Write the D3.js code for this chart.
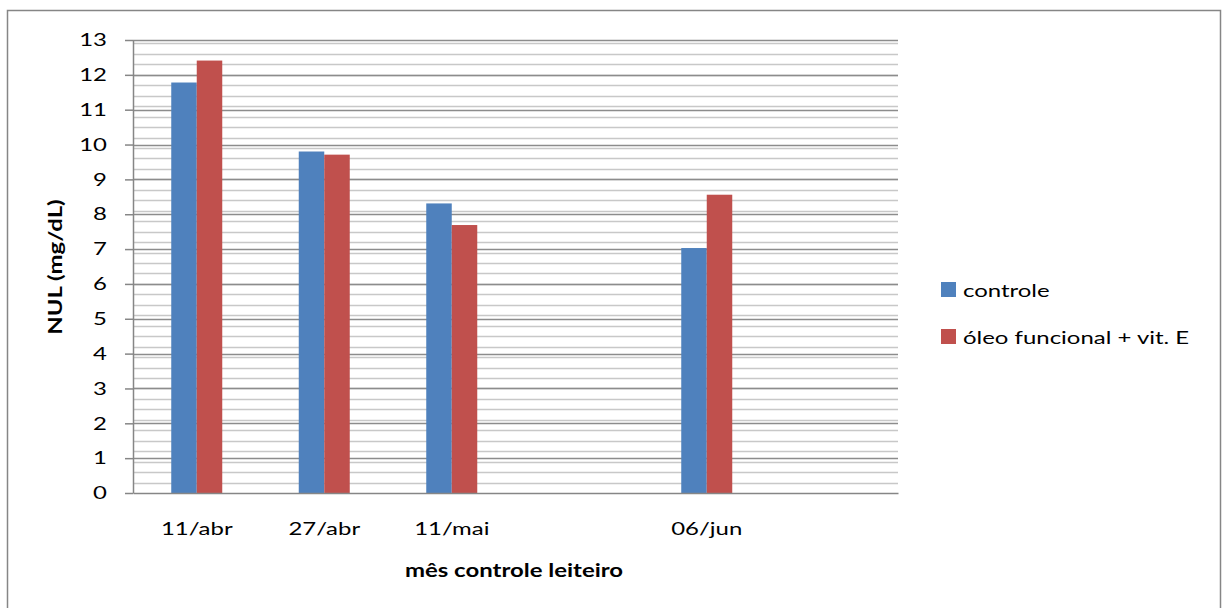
<!DOCTYPE html>
<html>
<head>
<meta charset="utf-8">
<script src="https://cdn.jsdelivr.net/npm/d3@7"></script>
<style>
body { margin: 0; background: #fff; }
text { font-family: Lato, "Open Sans", sans-serif; fill: #000; }
</style>
</head>
<body>
<svg width="1223" height="608"></svg>
<script>
// data
var categories = ['11/abr', '27/abr', '11/mai', '', '06/jun', ''];
var seriesNames = ['controle', 'óleo funcional + vit. E'];
var controle = [11.78, 9.80, 8.31, null, 7.03, null];
var oleo = [12.41, 9.71, 7.69, null, 8.56, null];
var yTicks = [0, 1, 2, 3, 4, 5, 6, 7, 8, 9, 10, 11, 12, 13];
var colors = ['#4f81bd', '#c0504d'];

var svg = d3.select('svg');

// the text in the picture is wider than Lato, stretch it along its run
function stretch(sel, k) {
    sel.each(function () {
        var w = this.getComputedTextLength();
        d3.select(this)
            .attr('textLength', w * k)
            .attr('lengthAdjust', 'spacingAndGlyphs');
    });
}
var K = 1.33;

// outer frame
svg.append('rect')
    .attr('x', 7.5).attr('y', 10.5)
    .attr('width', 1213).attr('height', 620)
    .attr('fill', 'none')
    .attr('stroke', '#868686')
    .attr('stroke-width', 1.5);

var plotLeft = 133, plotRight = 898, plotTop = 40, plotBottom = 493;

var scaleX = d3.scaleBand()
    .domain(d3.range(categories.length))
    .range([plotLeft, plotRight]);

var scaleY = d3.scaleLinear().domain([0, 13]).range([plotBottom, plotTop]);

var scaleSeries = d3.scaleBand()
    .domain([0, 1])
    .range([0, scaleX.bandwidth()])
    .paddingOuter(1.5);

// minor grid every 0.3
var minor = d3.range(0.3, 13, 0.3);
svg.append('g')
    .selectAll('line')
    .data(minor)
    .enter()
    .append('line')
    .attr('x1', plotLeft).attr('x2', plotRight)
    .attr('y1', function (d) { return Math.round(scaleY(d)) + 0.5; })
    .attr('y2', function (d) { return Math.round(scaleY(d)) + 0.5; })
    .attr('stroke', '#c8c8c8')
    .attr('stroke-width', 1.5);

// major grid
svg.append('g')
    .selectAll('line')
    .data(yTicks.slice(1))
    .enter()
    .append('line')
    .attr('x1', plotLeft).attr('x2', plotRight)
    .attr('y1', function (d) { return Math.round(scaleY(d)) + 0.5; })
    .attr('y2', function (d) { return Math.round(scaleY(d)) + 0.5; })
    .attr('stroke', '#8c8c8c')
    .attr('stroke-width', 1.5);

// bars
var rows = categories.map(function (c, i) {
    return { i: i, values: [controle[i], oleo[i]] };
});

var groups = svg.append('g')
    .selectAll('g')
    .data(rows)
    .enter()
    .append('g')
    .attr('transform', function (d) { return 'translate(' + scaleX(d.i) + ',0)'; });

groups.selectAll('rect')
    .data(function (d) {
        return d.values.map(function (v, k) { return { k: k, v: v }; })
            .filter(function (e) { return e.v != null; });
    })
    .enter()
    .append('rect')
    .attr('x', function (d) { return scaleSeries(d.k); })
    .attr('y', function (d) { return scaleY(d.v); })
    .attr('width', scaleSeries.bandwidth())
    .attr('height', function (d) { return scaleY(0) - scaleY(d.v); })
    .attr('fill', function (d) { return colors[d.k]; });

// y axis
var yAxis = svg.append('g')
    .attr('transform', 'translate(' + plotLeft + ',0)')
    .call(d3.axisLeft(scaleY).tickValues(yTicks).tickSize(8).tickPadding(18).tickSizeOuter(0));
yAxis.select('.domain').attr('stroke', '#868686').attr('stroke-width', 1.5);
yAxis.selectAll('.tick line').attr('stroke', '#868686').attr('stroke-width', 1.5);
yAxis.selectAll('.tick text').attr('font-size', 18).attr('font-family', 'Lato').attr('fill', '#000')
    .call(stretch, K);

// x axis
var xAxis = svg.append('g')
    .attr('transform', 'translate(0,' + plotBottom + ')')
    .call(d3.axisBottom(scaleX).tickSize(0).tickPadding(29)
        .tickFormat(function (i) { return categories[i]; }));
xAxis.select('.domain').attr('stroke', '#868686').attr('stroke-width', 1.5);
xAxis.selectAll('.tick text').attr('font-size', 18).attr('font-family', 'Lato').attr('fill', '#000')
    .call(stretch, K);

// axis titles
svg.append('text')
    .attr('x', 514)
    .attr('y', 577)
    .attr('text-anchor', 'middle')
    .attr('font-size', 18)
    .attr('font-weight', 'bold')
    .text('mês controle leiteiro')
    .call(stretch, K);

svg.append('text')
    .attr('transform', 'rotate(270)')
    .attr('x', -267)
    .attr('y', 62)
    .attr('text-anchor', 'middle')
    .attr('font-size', 18)
    .attr('font-weight', 'bold')
    .text('NUL (mg/dL)')
    .call(stretch, K);

// legend
var legend = svg.append('g')
    .selectAll('g')
    .data(seriesNames)
    .enter()
    .append('g')
    .attr('transform', function (d, i) { return 'translate(941,' + (282 + i * 47) + ')'; });

legend.append('rect')
    .attr('width', 15).attr('height', 15)
    .attr('fill', function (d, i) { return colors[i]; });

legend.append('text')
    .attr('x', 22)
    .attr('y', 15)
    .attr('font-size', 18)
    .text(function (d) { return d; })
    .call(stretch, K);
</script>
</body>
</html>
